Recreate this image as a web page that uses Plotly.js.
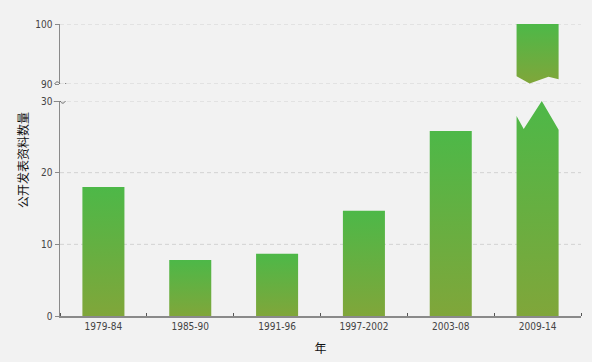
<!DOCTYPE html>
<html>
<head>
<meta charset="utf-8">
<script src="https://cdn.plot.ly/plotly-3.0.1.min.js"></script>
<style>html,body{margin:0;padding:0;background:#f2f2f2;}#chart{width:592px;height:362px;}</style>
</head>
<body>
<div id="chart"></div>
<script>
// ---- data ----
const categories = ["1979-84", "1985-90", "1991-96", "1997-2002", "2003-08", "2009-14"];
const values = [18, 7.8, 8.7, 14.7, 25.8, 100];
const lowerTicks = [0, 10, 20, 30];
const upperTicks = [90, 100];
const lowerRange = [0, 30];
const upperRange = [90, 100];

// ---- style ----
const barWidth = 0.484;
const green = '#4db848', olive = '#80a63a';
const grad = {type: 'vertical', colorscale: [[0, olive], [1, green]]};
// zigzag profile of the broken bar (x fraction across bar, depth below/above break)
const zigLowX = [0, 0.17, 0.6, 1];
const zigLowD = [2.1, 3.9, 0, 4.0];
const zigHighX = [0, 0.31, 0.76, 1];
const zigHighD = [1.3, 0.1, 1.2, 0.8];

const traces = [];
values.forEach((v, i) => {
  const x0 = i - barWidth / 2, x1 = i + barWidth / 2;
  if (v <= lowerRange[1]) {
    traces.push({x: [x0, x0, x1, x1, x0], y: [0, v, v, 0, 0], xaxis: 'x', yaxis: 'y',
      mode: 'lines', line: {width: 0}, fill: 'toself', fillgradient: grad, hoverinfo: 'skip'});
  } else {
    const xs = [x0], ys = [0];
    zigLowX.forEach((f, k) => { xs.push(x0 + f * barWidth); ys.push(lowerRange[1] - zigLowD[k]); });
    xs.push(x1, x0); ys.push(0, 0);
    traces.push({x: xs, y: ys, xaxis: 'x', yaxis: 'y', mode: 'lines', line: {width: 0},
      fill: 'toself', fillgradient: grad, hoverinfo: 'skip'});
    const xu = [x0, x0], yu = [v, upperRange[0] + zigHighD[0]];
    zigHighX.slice(1).forEach((f, k) => { xu.push(x0 + f * barWidth); yu.push(upperRange[0] + zigHighD[k + 1]); });
    xu.push(x1, x0); yu.push(v, v);
    traces.push({x: xu, y: yu, xaxis: 'x', yaxis: 'y2', mode: 'lines', line: {width: 0},
      fill: 'toself', fillgradient: grad, hoverinfo: 'skip'});
  }
});

const axisColor = '#8a8a8a';
const gridColor = '#d2d2d2';
const tickFont = {family: 'DejaVu Sans Condensed, sans-serif', size: 10, color: '#444'};
const tilde = 'M -6 -1 C -4 3, -2 3, 0 0 C 2 -3, 4 -3, 6 1';

const shapes = [];
lowerTicks.filter(t => t > lowerRange[0]).forEach(t => shapes.push({type: 'line', xref: 'paper', yref: 'y',
  x0: 0, x1: 1, y0: t, y1: t, layer: 'below', line: {color: gridColor, width: 1, dash: '4px,3px'}}));
upperTicks.forEach(t => shapes.push({type: 'line', xref: 'paper', yref: 'y2',
  x0: 0, x1: 1, y0: t, y1: t, layer: 'below', line: {color: gridColor, width: 1, dash: '4px,3px'}}));
shapes.push(
  {type: 'path', xref: 'paper', yref: 'y2', xsizemode: 'pixel', ysizemode: 'pixel',
   xanchor: 0, yanchor: upperRange[0], path: tilde, line: {color: '#666', width: 1}},
  {type: 'path', xref: 'paper', yref: 'y', xsizemode: 'pixel', ysizemode: 'pixel',
   xanchor: 0, yanchor: lowerRange[1], path: tilde, line: {color: '#666', width: 1}}
);

const layout = {
  width: 592, height: 362,
  margin: {l: 60, r: 11, t: 24, b: 46},
  paper_bgcolor: '#f2f2f2', plot_bgcolor: '#f2f2f2',
  showlegend: false,
  xaxis: {
    range: [-0.5, 5.5], tickvals: categories.map((c, i) => i), ticktext: categories,
    ticks: '', showgrid: false, zeroline: false, showline: true, linecolor: axisColor, linewidth: 1.5,
    tickfont: tickFont, anchor: 'y',
    minor: {tick0: 0.5, dtick: 1, ticks: 'inside', ticklen: 3, tickcolor: '#555', showgrid: false},
    title: {text: '年', font: {family: 'Noto Sans CJK SC', size: 12, color: '#111'}, standoff: 14}
  },
  yaxis: {
    domain: [0, 0.7363], range: lowerRange, tickvals: lowerTicks,
    showline: true, linecolor: axisColor, linewidth: 1.5, ticks: 'outside', ticklen: 4, tickcolor: axisColor,
    showgrid: false, zeroline: false, tickfont: tickFont, anchor: 'x'
  },
  yaxis2: {
    domain: [0.7945, 1], range: upperRange, tickvals: upperTicks,
    showline: true, linecolor: axisColor, linewidth: 1.5, ticks: 'outside', ticklen: 4, tickcolor: axisColor,
    showgrid: false, zeroline: false, tickfont: tickFont, anchor: 'x'
  },
  shapes: shapes,
  annotations: [
    {text: '公开发表资料数量', xref: 'paper', yref: 'paper', x: 0, y: 0.534, xshift: -38,
     xanchor: 'center', yanchor: 'middle', textangle: -90, showarrow: false,
     font: {family: 'Noto Sans CJK SC', size: 12, color: '#111'}}
  ]
};

Plotly.newPlot('chart', traces, layout, {staticPlot: true, displayModeBar: false});
</script>
</body>
</html>
